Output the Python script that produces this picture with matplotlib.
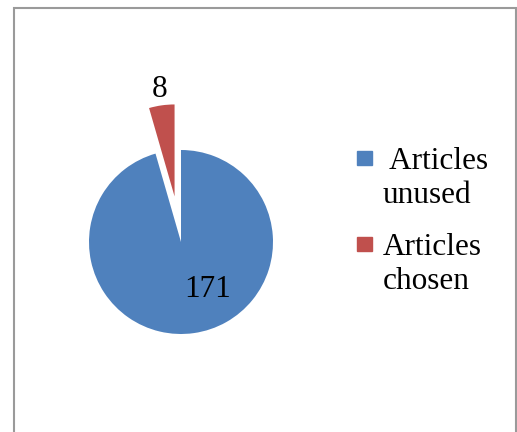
import matplotlib
matplotlib.use("Agg")
import matplotlib.pyplot as plt
from matplotlib.patches import Rectangle

# Dados do gráfico
labels = [" Articles\nunused", "Articles\nchosen"]
counts = [171, 8]
colors = ["#4F81BD", "#C0504D"]
explode = [0, 0.5]

plt.rcParams["font.family"] = ["Liberation Serif", "DejaVu Serif"]

W, H = 517, 432
fig = plt.figure(figsize=(W / 100, H / 100), dpi=100)
ax = fig.add_axes([0, 0, 1, 1])

# Centro e raio da pizza em pixels
cx, cy, r = 181, 242, 92

wedges, _ = ax.pie(counts, colors=colors, explode=explode, startangle=90,
                   counterclock=False, wedgeprops=dict(linewidth=0))

ax.set_xlim(-cx / r, (W - cx) / r)
ax.set_ylim((cy - H) / r, cy / r)
ax.set_aspect("equal")
ax.axis("off")

# Rótulos de valor
ax.text(0.29, -0.52, str(counts[0]), fontsize=22.5, ha="center", va="center")
ax.text(-0.23, 1.66, str(counts[1]), fontsize=22.5, ha="center", va="center")

# Legenda desenhada à mão
leg_y = [158, 244]
for y, lab, col in zip(leg_y, labels, colors):
    fig.patches.append(Rectangle((357 / W, 1 - (y + 7) / H), 15 / W, 14 / H,
                                 transform=fig.transFigure, color=col))
    fig.text(383 / W, 1 - (y - 11) / H, lab, fontsize=22.5, ha="left", va="top",
             linespacing=1.22)

# Moldura
fig.patches.append(Rectangle((13.5 / W, -0.05), (W - 15) / W, 1 - 7.5 / H + 0.05,
                             transform=fig.transFigure, fill=False,
                             edgecolor="#9A9A9A", linewidth=1.5))

fig.savefig("out.png", dpi=100)
